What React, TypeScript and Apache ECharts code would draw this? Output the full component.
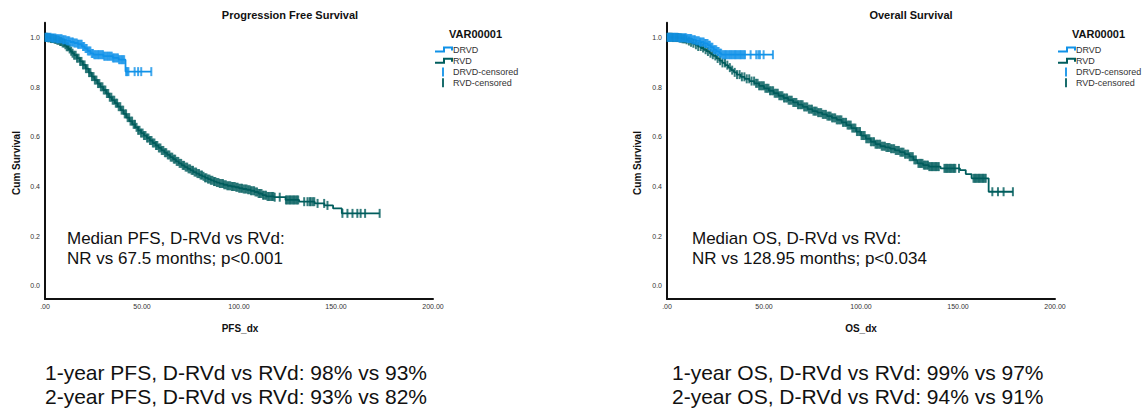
import React, { useEffect, useRef } from "react";
import * as echarts from "echarts";

// ---------- DATA ----------
const xTicks = [0, 50, 100, 150, 200];
const yTicks = [0, 0.2, 0.4, 0.6, 0.8, 1.0];

// Progression Free Survival (time, survival) steps
const pfsDrvdSteps: number[][] = [
  [0, 1.0], [3, 0.997], [6, 0.994], [9, 0.99], [11, 0.986], [13, 0.981], [15, 0.977],
  [17, 0.972], [19, 0.963], [20.5, 0.955], [22, 0.945], [23.5, 0.935], [25, 0.93],
  [30, 0.924], [35, 0.917], [38, 0.91], [41.5, 0.862],
];
const pfsDrvdEnd = 54.8;
const pfsDrvdCensored = [
  0.3, 0.9, 1.6, 2.2, 2.9, 3.5, 4.1, 4.8, 5.4, 6.1, 6.7, 7.4, 8.0, 8.6, 9.3, 9.9, 10.6,
  11.2, 11.9, 12.5, 13.1, 13.8, 14.4, 15.1, 15.7, 16.4, 17.0, 17.6, 18.3, 18.9, 19.6, 20.2,
  20.9, 21.5, 22.1, 22.8, 23.4, 24.1, 24.7, 25.4, 26.0, 26.6, 27.3, 27.9, 28.6, 29.2, 29.9,
  30.5, 31.1, 31.8, 32.4, 33.1, 33.7, 34.4, 35.0, 35.6, 36.3, 36.9, 37.6, 38.2, 38.9, 39.5,
  40.1, 40.8, 41.8, 42.4, 43.0, 46.2, 48.0, 49.6, 54.8,
];
const pfsRvdSteps: number[][] = [
  [0, 1.0], [1.5, 0.998], [3, 0.995], [4.5, 0.992], [6, 0.988], [7.5, 0.983], [9, 0.977],
  [10, 0.97], [11, 0.962], [12, 0.953], [13, 0.944], [14, 0.936], [15, 0.928], [16.5, 0.916],
  [18, 0.903], [19.5, 0.889], [21, 0.874], [22.5, 0.858], [24, 0.842], [25.5, 0.828],
  [27, 0.814], [28.5, 0.801], [30, 0.788], [31.5, 0.774], [33, 0.759], [34.5, 0.747],
  [36, 0.735], [37.5, 0.721], [39, 0.707], [40.5, 0.692], [42, 0.677], [43.5, 0.663],
  [45, 0.65], [46.5, 0.638], [48, 0.626], [49.5, 0.615], [51, 0.605], [52.5, 0.595],
  [54, 0.585], [55.5, 0.575], [57, 0.565], [58.5, 0.555], [60, 0.545], [61.5, 0.536],
  [63, 0.527], [64.5, 0.518], [66, 0.51], [67.5, 0.501], [69, 0.493], [70.5, 0.485],
  [72, 0.478], [73.5, 0.471], [75, 0.465], [76.5, 0.458], [78, 0.452], [79.5, 0.446],
  [81, 0.441], [82.5, 0.435], [84, 0.43], [85.5, 0.425], [87, 0.42], [88.5, 0.416],
  [90, 0.412], [92, 0.407], [94, 0.403], [96, 0.4], [98, 0.397], [100, 0.393], [102, 0.39],
  [104, 0.387], [106, 0.383], [108, 0.378], [110, 0.372], [112, 0.365], [114, 0.36],
  [118, 0.357], [124, 0.346], [131, 0.339], [139, 0.332], [144, 0.324], [148.5, 0.312],
  [153, 0.292],
];
const pfsRvdEnd = 172.5;
const pfsRvdCensored = [
  0.3, 0.9, 1.6, 2.3, 3.0, 3.7, 4.3, 5.0, 5.7, 6.4, 7.1, 7.8, 8.4, 9.1, 9.8, 10.5, 11.2,
  11.9, 12.7, 13.5, 14.2, 15.0, 15.8, 16.5, 17.3, 18.1, 18.8, 19.6, 20.4, 21.1, 21.9, 22.7,
  23.4, 24.2, 25.0, 25.7, 26.5, 27.3, 28.0, 28.8, 29.6, 30.3, 31.1, 31.9, 32.6, 33.4, 34.2,
  34.9, 35.7, 36.5, 37.2, 38.0, 38.8, 39.5, 40.3, 41.1, 41.8, 42.6, 43.4, 44.1, 44.9, 45.7,
  46.4, 47.2, 48.0, 48.7, 49.5, 50.3, 51.0, 51.8, 52.6, 53.3, 54.1, 54.9, 55.6, 56.4, 57.2,
  57.9, 58.7, 59.5, 60.2, 61.0, 61.8, 62.5, 63.3, 64.1, 64.8, 65.6, 66.4, 67.1, 67.9, 68.7,
  69.4, 70.2, 71.0, 71.7, 72.5, 73.3, 74.0, 74.8, 75.6, 76.3, 77.1, 77.9, 78.6, 79.4, 80.2,
  80.9, 81.7, 82.5, 83.2, 84.0, 84.8, 85.5, 86.3, 87.1, 87.8, 88.6, 89.4, 90.1, 90.9, 91.7,
  92.4, 93.2, 94.0, 94.7, 95.5, 96.3, 97.0, 97.8, 98.6, 99.3, 100.1, 100.9, 101.6, 102.4,
  103.2, 103.9, 104.7, 105.5, 106.2, 107.0, 107.8, 108.5, 109.3, 110.1, 110.8, 111.6,
  112.4, 113.1, 113.9, 114.7, 115.4, 116.2, 117.0, 117.7, 118.4, 121.0, 124.2, 124.9,
  125.6, 126.3, 127.0, 127.7, 128.4, 129.1, 129.8, 130.5, 133.6, 135.3, 136.4, 137.0,
  138.0, 138.8, 140.5, 143.9, 145.6, 153.3, 155.9, 158.5, 161.0, 162.7, 165.0, 172.5,
];

// Overall Survival (time, survival) steps
const osDrvdSteps: number[][] = [
  [0, 1.0], [6, 0.998], [10, 0.995], [13, 0.99], [15, 0.986], [17, 0.981], [19, 0.975],
  [21, 0.968], [22.5, 0.96], [24, 0.95], [25.5, 0.943], [27, 0.936], [28, 0.93],
];
const osDrvdEnd = 54.6;
const osDrvdCensored = [
  0.3, 0.9, 1.6, 2.2, 2.9, 3.5, 4.1, 4.8, 5.4, 6.1, 6.7, 7.4, 8.0, 8.6, 9.3, 9.9, 10.6,
  11.2, 11.9, 12.5, 13.1, 13.8, 14.4, 15.1, 15.7, 16.4, 17.0, 17.6, 18.3, 18.9, 19.6, 20.2,
  20.9, 21.5, 22.1, 22.8, 23.4, 24.1, 24.7, 25.4, 26.0, 26.6, 27.3, 27.9, 28.6, 29.2, 29.9,
  30.5, 31.1, 31.8, 32.4, 33.1, 33.7, 34.4, 35.0, 35.6, 36.3, 36.9, 37.6, 38.2, 38.9, 39.5,
  40.2, 43.1, 46.0, 47.1, 47.9, 49.8, 54.6,
];
const osRvdSteps: number[][] = [
  [0, 1.0], [3, 0.999], [6, 0.997], [8, 0.994], [9.5, 0.99], [11, 0.985], [12, 0.98],
  [13, 0.976], [14.5, 0.97], [16, 0.963], [17.5, 0.957], [19, 0.95], [20.5, 0.943],
  [22, 0.936], [23, 0.93], [24, 0.925], [25.5, 0.915], [27, 0.906], [28.5, 0.897],
  [30, 0.888], [31.5, 0.878], [33, 0.868], [34.5, 0.859], [36, 0.85], [38, 0.841],
  [40, 0.833], [42.5, 0.824], [45, 0.815], [47.5, 0.805], [50, 0.795], [52.5, 0.785],
  [55, 0.775], [57.5, 0.765], [60, 0.756], [62.5, 0.747], [65, 0.738], [67.5, 0.729],
  [70, 0.72], [72.5, 0.711], [75, 0.703], [77.5, 0.697], [80, 0.69], [82.5, 0.683],
  [85, 0.676], [87.5, 0.668], [90, 0.658], [92.5, 0.647], [95, 0.635], [97.5, 0.621],
  [100, 0.605], [102.5, 0.592], [105, 0.58], [107.5, 0.57], [110, 0.562], [112.5, 0.557],
  [115, 0.552], [117.5, 0.545], [120, 0.538], [122.5, 0.53], [125, 0.52], [127, 0.507],
  [129, 0.493], [132, 0.486], [135, 0.48], [141, 0.473], [151, 0.466], [154, 0.45],
  [157, 0.433], [165.8, 0.379],
];
const osRvdEnd = 178.3;
const osRvdCensored = [
  0.3, 1.0, 1.7, 2.4, 3.1, 3.8, 4.5, 5.2, 5.9, 6.6, 7.3, 8.0, 8.7, 9.4, 10.1, 11.3, 12.4,
  13.6, 14.9, 16.1, 17.4, 18.6, 19.9, 21.1, 22.4, 23.6, 24.9, 26.1, 27.4, 28.6, 29.9, 31.1,
  32.4, 33.6, 34.9, 36.1, 37.4, 38.6, 39.9, 41.1, 42.4, 43.6, 44.9, 45.9, 46.7, 47.5, 48.3,
  49.1, 49.9, 50.7, 51.5, 52.3, 53.1, 53.9, 54.7, 55.5, 56.3, 57.1, 57.9, 58.7, 59.5, 60.3,
  61.1, 61.9, 62.7, 63.5, 64.3, 65.1, 65.9, 66.7, 67.5, 68.3, 69.1, 69.9, 70.7, 71.5, 72.3,
  73.1, 73.9, 74.7, 75.5, 76.3, 77.1, 77.9, 78.7, 79.5, 80.3, 81.1, 81.9, 82.7, 83.5, 84.3,
  85.1, 85.9, 86.7, 87.5, 88.3, 89.1, 89.9, 90.7, 91.5, 92.3, 93.1, 93.9, 94.7, 95.5, 96.3,
  97.1, 97.9, 98.7, 99.5, 100.3, 101.1, 101.9, 102.7, 103.5, 104.3, 105.1, 105.9, 106.7,
  107.5, 108.3, 109.1, 109.9, 110.7, 111.5, 112.3, 113.1, 113.9, 114.7, 115.5, 116.3,
  117.1, 117.9, 118.7, 119.5, 120.3, 121.1, 121.9, 122.7, 123.5, 124.3, 125.1, 125.9,
  126.7, 127.5, 128.3, 129.6, 130.3, 131.0, 131.7, 132.4, 133.1, 133.8, 134.5, 135.2,
  135.9, 136.6, 137.3, 138.0, 138.7, 139.4, 140.1, 143.0, 143.7, 144.4, 145.1, 145.8,
  146.5, 147.2, 147.9, 148.6, 150.5, 158.0, 158.7, 159.4, 160.1, 160.8, 161.5, 162.2,
  162.9, 163.6, 164.3, 167.7, 170.6, 173.5, 178.3,
];

const titles = ["Progression Free Survival", "Overall Survival"];
const xNames = ["PFS_dx", "OS_dx"];
const yName = "Cum Survival";
const legendTitle = "VAR00001";
const legendItems = ["DRVD", "RVD", "DRVD-censored", "RVD-censored"];
const medianLines = [
  ["Median PFS, D-RVd vs RVd:", "NR vs 67.5 months; p<0.001"],
  ["Median OS, D-RVd vs RVd:", "NR vs 128.95 months; p<0.034"],
];
const landmarkLines = [
  ["1-year PFS, D-RVd vs RVd: 98% vs 93%", "2-year PFS, D-RVd vs RVd: 93% vs 82%"],
  ["1-year OS, D-RVd vs RVd: 99% vs 97%", "2-year OS, D-RVd vs RVd: 94% vs 91%"],
];

// ---------- STYLE ----------
const BLUE = "#1192e8";
const TEAL = "#005d5d";
const FONT = "'Liberation Sans', Arial, sans-serif";

function survAt(steps: number[][], t: number) {
  let s = steps[0][1];
  for (const [x, y] of steps) if (x <= t) s = y;
  return s;
}

function stepSeries(steps: number[][], end: number, color: string, idx: number) {
  const data = steps.concat([[end, steps[steps.length - 1][1]]]);
  return {
    type: "line",
    xAxisIndex: idx,
    yAxisIndex: idx,
    step: "end",
    data,
    showSymbol: false,
    symbol: "none",
    lineStyle: { color, width: 1.8 },
    silent: true,
    z: 3,
  };
}

function censorSeries(steps: number[][], times: number[], color: string, idx: number) {
  return {
    type: "scatter",
    xAxisIndex: idx,
    yAxisIndex: idx,
    data: times.map((t) => [t, survAt(steps, t)]),
    symbol: "rect",
    symbolSize: [2, 9],
    itemStyle: { color },
    silent: true,
    z: 4,
  };
}

const GRID_LEFT = [45, 667];
const GRID_W = 388;
const GRID_TOP = 22.7;
const GRID_H = 276.3;

export default function App() {
  const ref = useRef<HTMLDivElement>(null);
  useEffect(() => {
    if (!ref.current) return;
    const chart = echarts.init(ref.current, undefined, { renderer: "svg" });

    const grids = GRID_LEFT.map((l) => ({ left: l, top: GRID_TOP, width: GRID_W, height: GRID_H }));
    const xAxes = [0, 1].map((i) => ({
      type: "value",
      gridIndex: i,
      min: 0,
      max: 200,
      interval: 50,
      axisLine: { onZero: false, lineStyle: { color: "#111", width: 2 } },
      axisTick: { show: false },
      splitLine: { show: false },
      axisLabel: {
        margin: 4,
        fontSize: 7,
        color: "#333",
        fontFamily: FONT,
        customValues: xTicks,
        formatter: (v: number) => (v === 0 ? ".00" : v.toFixed(2)),
      },
    }));
    const yAxes = [0, 1].map((i) => ({
      type: "value",
      gridIndex: i,
      min: -0.0523,
      max: 1.0587,
      axisLine: { show: true, lineStyle: { color: "#111", width: 2 } },
      axisTick: { show: false },
      splitLine: { show: false },
      axisLabel: {
        margin: 5,
        fontSize: 7,
        color: "#333",
        fontFamily: FONT,
        customValues: yTicks,
        formatter: (v: number) => v.toFixed(1),
      },
    }));

    const graphics: any[] = [];
    const legendX = [435, 1058];
    const titleX = [290, 911];
    const yNameX = [16, 637];
    const xNameX = [240, 861];
    const medX = [67, 692];
    const landX = [45, 672];
    [0, 1].forEach((i) => {
      graphics.push({
        type: "text",
        x: titleX[i],
        y: 15,
        style: { text: titles[i], font: `bold 11px ${FONT}`, fill: "#111", align: "center", verticalAlign: "middle" },
      });
      graphics.push({
        type: "text",
        x: yNameX[i],
        y: 163,
        rotation: Math.PI / 2,
        style: { text: yName, font: `bold 10px ${FONT}`, fill: "#111", align: "center", verticalAlign: "middle" },
      });
      graphics.push({
        type: "text",
        x: xNameX[i],
        y: 328,
        style: { text: xNames[i], font: `bold 10px ${FONT}`, fill: "#111", align: "center", verticalAlign: "middle" },
      });
      const lx = legendX[i];
      graphics.push({
        type: "text",
        x: lx + 14,
        y: 33.5,
        style: { text: legendTitle, font: `bold 11px ${FONT}`, fill: "#111", align: "left", verticalAlign: "middle" },
      });
      const rowsY = [49.5, 60.8, 72, 82.8];
      [BLUE, TEAL].forEach((c, k) => {
        const y = rowsY[k];
        graphics.push({
          type: "polyline",
          shape: { points: [[lx, y + 2], [lx + 9, y + 2], [lx + 9, y - 2], [lx + 17, y - 2], [lx + 17, y + 1]] },
          style: { stroke: c, lineWidth: 2, fill: null },
        });
        graphics.push({
          type: "line",
          shape: { x1: lx + 8, y1: rowsY[k + 2] - 4.5, x2: lx + 8, y2: rowsY[k + 2] + 4.5 },
          style: { stroke: c, lineWidth: 1.8 },
        });
      });
      legendItems.forEach((txt, k) => {
        graphics.push({
          type: "text",
          x: lx + 18,
          y: rowsY[k],
          style: { text: txt, font: `9px ${FONT}`, fill: "#333", align: "left", verticalAlign: "middle" },
        });
      });
      medianLines[i].forEach((txt, k) => {
        graphics.push({
          type: "text",
          x: medX[i],
          y: 238 + k * 20,
          style: { text: txt, font: `17px ${FONT}`, fill: "#111", align: "left", verticalAlign: "middle" },
        });
      });
      landmarkLines[i].forEach((txt, k) => {
        graphics.push({
          type: "text",
          x: landX[i],
          y: 372 + k * 24,
          style: { text: txt, font: `21px ${FONT}`, fill: "#111", align: "left", verticalAlign: "middle" },
        });
      });
    });

    chart.setOption({
      animation: false,
      backgroundColor: "#ffffff",
      grid: grids,
      xAxis: xAxes,
      yAxis: yAxes,
      series: [
        stepSeries(pfsRvdSteps, pfsRvdEnd, TEAL, 0),
        censorSeries(pfsRvdSteps, pfsRvdCensored, TEAL, 0),
        stepSeries(pfsDrvdSteps, pfsDrvdEnd, BLUE, 0),
        censorSeries(pfsDrvdSteps, pfsDrvdCensored, BLUE, 0),
        stepSeries(osRvdSteps, osRvdEnd, TEAL, 1),
        censorSeries(osRvdSteps, osRvdCensored, TEAL, 1),
        stepSeries(osDrvdSteps, osDrvdEnd, BLUE, 1),
        censorSeries(osDrvdSteps, osDrvdCensored, BLUE, 1),
      ],
      graphic: graphics,
    });
    return () => chart.dispose();
  }, []);
  return (
    <div
      ref={ref}
      style={{ position: "fixed", left: 0, top: 0, width: 1143, height: 411, background: "#fff" }}
    />
  );
}
